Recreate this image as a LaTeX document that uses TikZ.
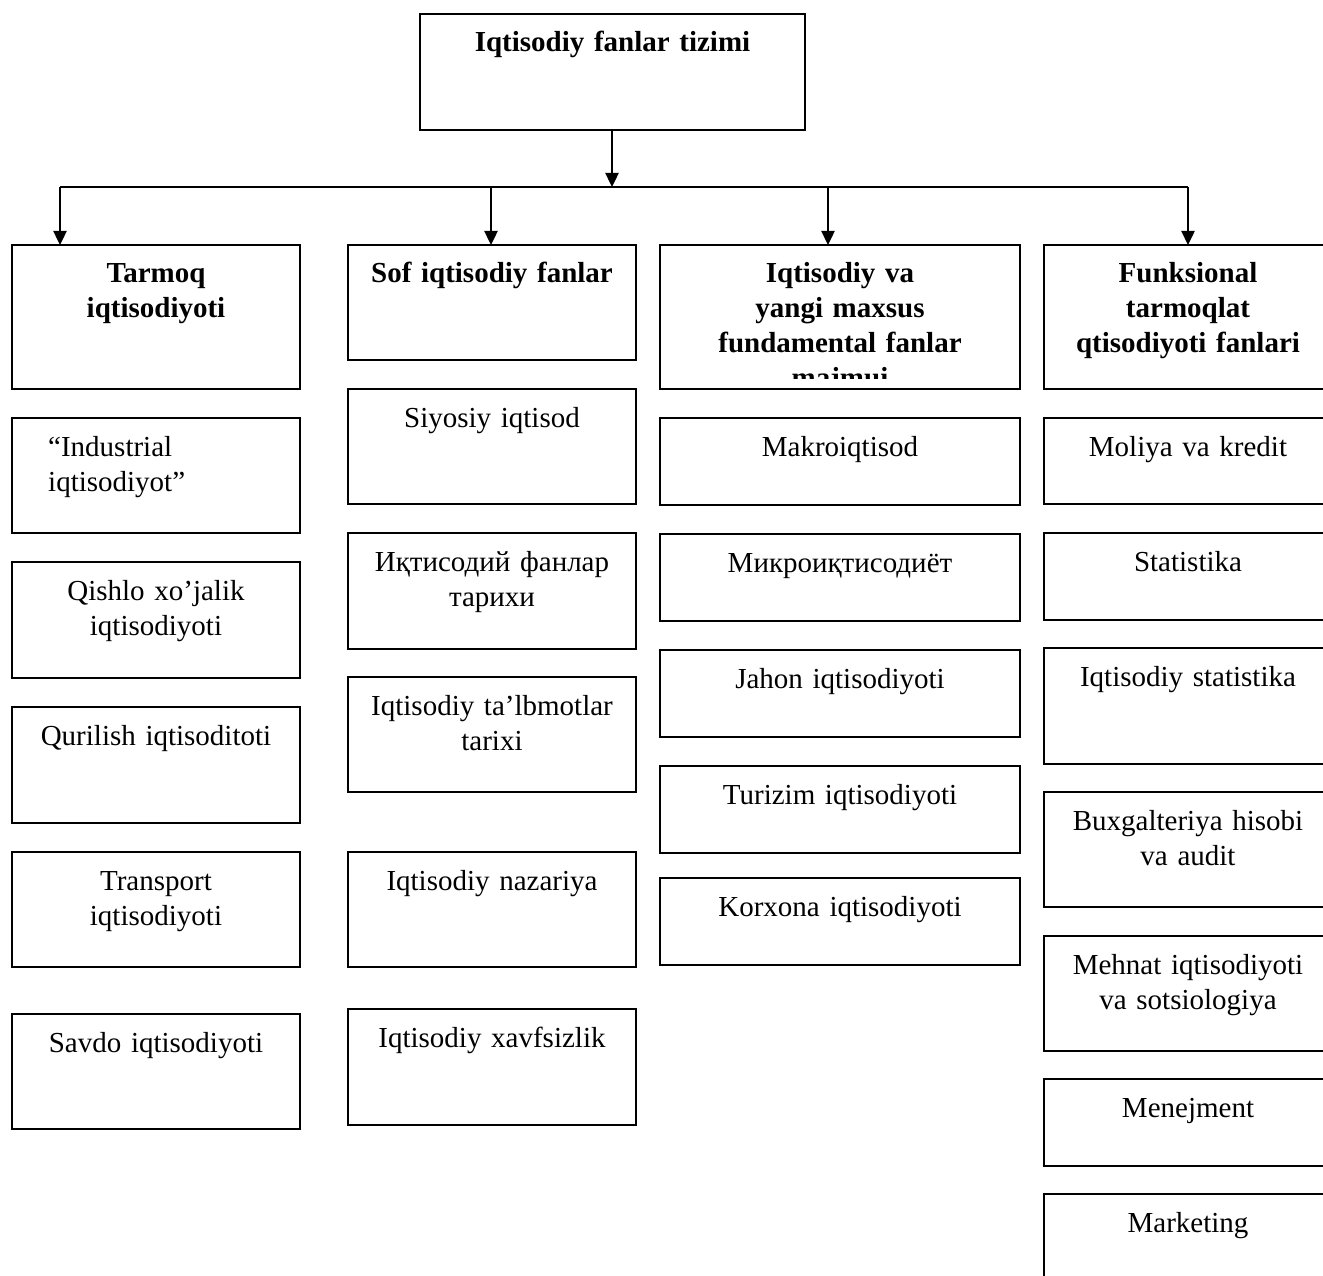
\documentclass[tikz,border=0pt]{standalone}
\usepackage{fontspec}
\setmainfont{Liberation Serif}
\usetikzlibrary{arrows.meta}
\tikzset{
  box/.style={draw, line width=2pt, rectangle, inner sep=0pt, outer sep=0pt},
  txt/.style={anchor=base, align=center, text width=340pt, inner sep=0pt,
    font=\fontsize{29}{35}\selectfont},
  btxt/.style={txt, font=\fontsize{29}{35}\selectfont\bfseries},
  conn/.style={line width=2.4pt},
  arr/.style={conn, -{Triangle[length=14pt,width=13pt]}}
}
\newcommand\mybox[6]{%
  \node[box, minimum width={(#4)-(#2)}, minimum height={(#5)-(#3)}] (#1) at ({((#2)+(#4))/2},{-((#3)+(#5))/2}) {};
  \node[txt] (#1t) at ({((#2)+(#4))/2},{-(#3)-38}) {#6};}
\newcommand\myhead[6]{%
  \node[box, minimum width={(#4)-(#2)}, minimum height={(#5)-(#3)}] (#1) at ({((#2)+(#4))/2},{-((#3)+(#5))/2}) {};
  \node[btxt] (#1t) at ({((#2)+(#4))/2},{-(#3)-38}) {#6};}
\begin{document}
\begin{tikzpicture}[x=1pt,y=1pt]
\useasboundingbox (0,0) rectangle (1323,-1276);
\clip (0,0) rectangle (1323,-1276);
\fill[white] (0,0) rectangle (1323,-1276);
% top
\myhead{top}{420}{14}{805}{130}{Iqtisodiy fanlar tizimi}
% headers
\myhead{h1}{12}{245}{300}{389}{Tarmoq\\iqtisodiyoti}
\myhead{h2}{348}{245}{636}{360}{Sof iqtisodiy fanlar}
\node[box, minimum width=360, minimum height=144] (h3) at (840,-317) {};
\begin{scope}
  \clip (662,-247) rectangle (1018,-378);
  \node[btxt] (h3t) at (840,-283) {Iqtisodiy va\\yangi maxsus\\fundamental fanlar\\majmui};
\end{scope}
\myhead{h4}{1044}{245}{1332}{389}{Funksional\\tarmoqlat\\qtisodiyoti fanlari}
% column 1
\node[box, minimum width=288, minimum height=115] (a1) at (156,-475.5) {};
\node[txt, anchor=base west, align=left, text width=240pt] (a1t) at (48,-456) {“Industrial\\iqtisodiyot”};
\mybox{a2}{12}{562}{300}{678}{Qishlo xo’jalik\\iqtisodiyoti}
\mybox{a3}{12}{707}{300}{823}{Qurilish iqtisoditoti}
\mybox{a4}{12}{852}{300}{967}{Transport\\iqtisodiyoti}
\mybox{a5}{12}{1014}{300}{1129}{Savdo iqtisodiyoti}
% column 2
\mybox{b1}{348}{389}{636}{504}{Siyosiy iqtisod}
\mybox{b2}{348}{533}{636}{649}{Иқтисодий фанлар\\тарихи}
\mybox{b3}{348}{677}{636}{792}{Iqtisodiy ta’lbmotlar\\tarixi}
\mybox{b4}{348}{852}{636}{967}{Iqtisodiy nazariya}
\mybox{b5}{348}{1009}{636}{1125}{Iqtisodiy xavfsizlik}
% column 3
\mybox{d1}{660}{418}{1020}{505}{Makroiqtisod}
\mybox{d2}{660}{534}{1020}{621}{Микроиқтисодиёт}
\mybox{d3}{660}{650}{1020}{737}{Jahon iqtisodiyoti}
\mybox{d4}{660}{766}{1020}{853}{Turizim iqtisodiyoti}
\mybox{d5}{660}{878}{1020}{965}{Korxona iqtisodiyoti}
% column 4
\mybox{e1}{1044}{418}{1332}{504}{Moliya va kredit}
\mybox{e2}{1044}{533}{1332}{620}{Statistika}
\mybox{e3}{1044}{648}{1332}{764}{Iqtisodiy statistika}
\mybox{e4}{1044}{792}{1332}{907}{Buxgalteriya hisobi\\va audit}
\mybox{e5}{1044}{936}{1332}{1051}{Mehnat iqtisodiyoti\\va sotsiologiya}
\mybox{e6}{1044}{1079}{1332}{1166}{Menejment}
\mybox{e7}{1044}{1194}{1332}{1310}{Marketing}
% connectors
\coordinate (bus1) at (60,-187);
\coordinate (bus2) at (491,-187);
\coordinate (bus3) at (828,-187);
\coordinate (bus4) at (1188,-187);
\draw[arr] (top.south -| 612,0) -- (612,-187);
\draw[conn] (bus1) -- (bus4);
\draw[arr] (bus1) -- (bus1 |- h1.north);
\draw[arr] (bus2) -- (bus2 |- h2.north);
\draw[arr] (bus3) -- (bus3 |- h3.north);
\draw[arr] (bus4) -- (bus4 |- h4.north);
\end{tikzpicture}
\end{document}
